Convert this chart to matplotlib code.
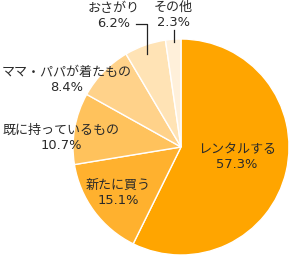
import matplotlib.pyplot as plt

plt.rcParams['font.family'] = ['DejaVu Sans', 'Noto Sans CJK JP']

labels = ['レンタルする', '新たに買う', '既に持っているもの', 'ママ・パパが着たもの', 'おさがり', 'その他']
shares = [57.3, 15.1, 10.7, 8.4, 6.2, 2.3]
colors = ['#FFA500', '#FFB12E', '#FFC25C', '#FFD28A', '#FFE3B5', '#FFF0DA']

W, H = 289, 256
fig = plt.figure(figsize=(W / 100, H / 100), dpi=100)
ax = fig.add_axes([0, 0, 1, 1])

# pie centre / radius in pixel units (y measured from bottom)
cx, cy, r = 181, H - 147, 108
ax.pie(shares, colors=colors, startangle=90, counterclock=False,
       center=(cx, cy), radius=r, frame=True,
       wedgeprops={'edgecolor': 'white', 'linewidth': 1.0})
ax.set_xlim(0, W)
ax.set_ylim(0, H)
ax.set_aspect('equal')
ax.axis('off')

# label positions (pixels from top)
pos = [(237, 157), (118, 193), (61, 138), (67, 80), (114, 16), (173, 15)]
for lab, val, (x, y) in zip(labels, shares, pos):
    ax.text(x, H - y, f'{lab}\n{val:.1f}%', ha='center', va='center',
            fontsize=9.4, color='#2a2a2a', linespacing=1.15)

# leader lines
ax.plot([136, 147, 147], [H - 24, H - 24, H - 54], color='#222222', lw=0.9)
ax.plot([174, 174], [H - 30, H - 42], color='#222222', lw=0.9)

fig.savefig('out.png', dpi=100)
